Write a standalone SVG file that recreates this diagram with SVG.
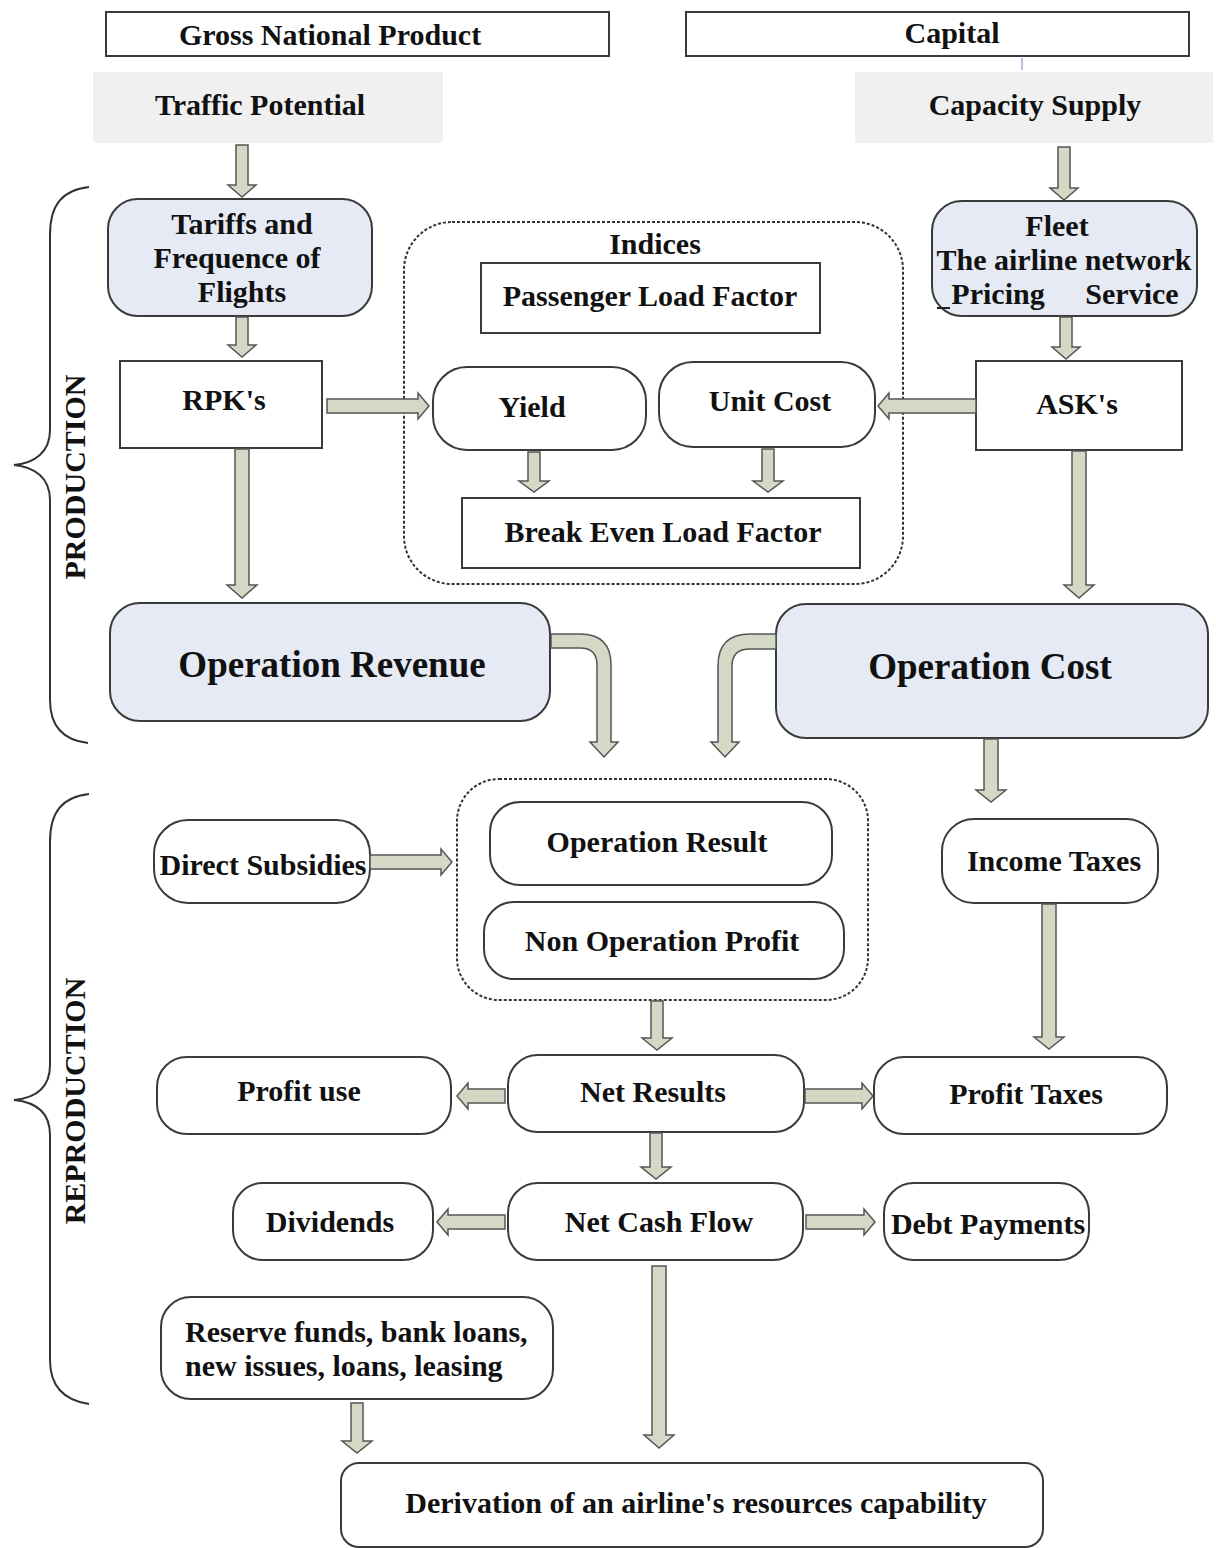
<svg xmlns="http://www.w3.org/2000/svg" width="1216" height="1548" viewBox="0 0 1216 1548">
<style>
.box{fill:#fff;stroke:#3a3a3a;stroke-width:2}
.blue{fill:#e5eaf4}
.gray{fill:#f0f0f0;stroke:none}
.dash{fill:none;stroke:#333;stroke-width:2;stroke-dasharray:3 2}
.arrow{fill:#d5d8c4;stroke:#555;stroke-width:1.5}
.brace{fill:none;stroke:#333;stroke-width:2}
.t{font-family:"Liberation Serif","Times New Roman",serif;font-weight:bold;font-size:30px;fill:#111;text-anchor:middle}
.big{font-size:37px}
.left{text-anchor:start}
</style>
<rect width="1216" height="1548" fill="#fff"/>

<g id="braces">
<path class="brace" d="M89,187 C62,190 50,205 50,235 V430 C50,452 35,463 14,465 C35,467 50,478 50,500 V700 C50,725 62,740 88,743"/>
<text class="t" transform="translate(85,477) rotate(-90)">PRODUCTION</text>
<path class="brace" d="M89,794 C62,797 50,812 50,842 V1065 C50,1088 35,1098 14,1100 C35,1102 50,1112 50,1135 V1360 C50,1385 62,1400 89,1404"/>
<text class="t" transform="translate(85,1101) rotate(-90)">REPRODUCTION</text>
</g>

<g id="gnp"><rect class="box" x="106" y="12" width="503" height="44"/><text class="t" x="330" y="45">Gross National Product</text></g>
<g id="capital"><rect class="box" x="686" y="12" width="503" height="44"/><text class="t" x="952" y="43">Capital</text><line x1="1022" y1="58" x2="1022" y2="70" stroke="#9aabcc" stroke-width="1.5"/></g>
<g id="traffic"><rect class="gray" x="93" y="72" width="350" height="71"/><text class="t" x="260" y="115">Traffic Potential</text></g>
<g id="capacity"><rect class="gray" x="855" y="72" width="358" height="71"/><text class="t" x="1035" y="115">Capacity Supply</text></g>

<g id="tariffs"><rect class="box blue" x="108" y="199" width="264" height="117" rx="30"/>
<text class="t" x="242" y="234">Tariffs and</text><text class="t" x="237" y="268">Frequence of</text><text class="t" x="242" y="302">Flights</text></g>

<g id="fleet"><rect class="box blue" x="932" y="201" width="265" height="115" rx="30"/>
<text class="t" x="1057" y="236">Fleet</text><text class="t" x="1064" y="270">The airline network</text>
<text class="t" y="304"><tspan x="998">Pricing</tspan><tspan x="1132">Service</tspan></text>
<line x1="937" y1="308" x2="950" y2="308" stroke="#222" stroke-width="2"/></g>

<g id="indices"><rect class="dash" x="404" y="222" width="499" height="362" rx="48"/><text class="t" x="655" y="254">Indices</text></g>
<g id="plf"><rect class="box" x="481" y="263" width="339" height="70"/><text class="t" x="650" y="306">Passenger Load Factor</text></g>
<g id="yield"><rect class="box" x="433" y="367" width="213" height="83" rx="34"/><text class="t" x="532" y="417">Yield</text></g>
<g id="unitcost"><rect class="box" x="659" y="362" width="216" height="85" rx="34"/><text class="t" x="770" y="411">Unit Cost</text></g>
<g id="belf"><rect class="box" x="462" y="498" width="398" height="70"/><text class="t" x="663" y="542">Break Even Load Factor</text></g>

<g id="rpk"><rect class="box" x="120" y="361" width="202" height="87"/><text class="t" x="224" y="410">RPK's</text></g>
<g id="ask"><rect class="box" x="976" y="361" width="206" height="89"/><text class="t" x="1077" y="414">ASK's</text></g>

<g id="oprev"><rect class="box blue" x="110" y="603" width="440" height="118" rx="30"/><text class="t big" x="332" y="677">Operation Revenue</text></g>
<g id="opcost"><rect class="box blue" x="776" y="604" width="432" height="134" rx="30"/><text class="t big" x="990" y="679">Operation Cost</text></g>

<g id="results"><rect class="dash" x="457" y="779" width="411" height="221" rx="42"/></g>
<g id="opresult"><rect class="box" x="490" y="802" width="342" height="83" rx="30"/><text class="t" x="657" y="852">Operation Result</text></g>
<g id="nonop"><rect class="box" x="484" y="902" width="360" height="77" rx="30"/><text class="t" x="662" y="951">Non Operation Profit</text></g>
<g id="subsidies"><rect class="box" x="154" y="820" width="216" height="83" rx="34"/><text class="t" x="263" y="875">Direct Subsidies</text></g>
<g id="incometax"><rect class="box" x="942" y="819" width="216" height="84" rx="32"/><text class="t" x="1054" y="871">Income Taxes</text></g>

<g id="profituse"><rect class="box" x="157" y="1057" width="294" height="77" rx="30"/><text class="t" x="299" y="1101">Profit use</text></g>
<g id="netresults"><rect class="box" x="508" y="1055" width="296" height="77" rx="30"/><text class="t" x="653" y="1102">Net Results</text></g>
<g id="profittax"><rect class="box" x="874" y="1057" width="293" height="77" rx="30"/><text class="t" x="1026" y="1104">Profit Taxes</text></g>

<g id="dividends"><rect class="box" x="233" y="1183" width="200" height="77" rx="30"/><text class="t" x="330" y="1232">Dividends</text></g>
<g id="netcash"><rect class="box" x="508" y="1183" width="295" height="77" rx="30"/><text class="t" x="659" y="1232">Net Cash Flow</text></g>
<g id="debt"><rect class="box" x="884" y="1183" width="205" height="77" rx="30"/><text class="t" x="988" y="1234">Debt Payments</text></g>

<g id="reserve"><rect class="box" x="161" y="1297" width="392" height="102" rx="30"/>
<text class="t left" x="185" y="1342">Reserve funds, bank loans,</text><text class="t left" x="185" y="1376">new issues, loans, leasing</text></g>

<g id="derivation"><rect class="box" x="341" y="1463" width="702" height="84" rx="18"/><text class="t" x="696" y="1513">Derivation of an airline's resources capability</text></g>

<g id="connectors">
<path class="arrow" d="M236,145 H248 V185 H256 L242,197 L228,185 H236 Z"/>
<path class="arrow" d="M1058,147 H1070 V188 H1078 L1064,200 L1050,188 H1058 Z"/>
<path class="arrow" d="M236,317 H248 V345 H256 L242,357 L228,345 H236 Z"/>
<path class="arrow" d="M1060,317 H1072 V347 H1080 L1066,359 L1052,347 H1060 Z"/>
<path class="arrow" d="M528,452 H540 V481 H549 L534,492 L519,481 H528 Z"/>
<path class="arrow" d="M762,449 H774 V481 H783 L768,492 L753,481 H762 Z"/>
<path class="arrow" d="M235,449 H249 V585 H257 L242,598 L227,585 H235 Z"/>
<path class="arrow" d="M1072,451 H1086 V585 H1094 L1079,598 L1064,585 H1072 Z"/>
<path class="arrow" d="M984,739 H998 V790 H1006 L991,802 L976,790 H984 Z"/>
<path class="arrow" d="M651,1001 H663 V1038 H672 L657,1050 L642,1038 H651 Z"/>
<path class="arrow" d="M1042,904 H1056 V1037 H1064 L1049,1049 L1034,1037 H1042 Z"/>
<path class="arrow" d="M650,1133 H662 V1167 H671 L656,1179 L641,1167 H650 Z"/>
<path class="arrow" d="M652,1266 H666 V1435 H674 L659,1448 L644,1435 H652 Z"/>
<path class="arrow" d="M351,1403 H363 V1441 H372 L357,1453 L342,1441 H351 Z"/>
<path class="arrow" d="M327,399 H418 V393 L429,406 L418,419 V413 H327 Z"/>
<path class="arrow" d="M370,855 H441 V849 L452,862 L441,875 V869 H370 Z"/>
<path class="arrow" d="M805,1089 H862 V1083 L873,1096 L862,1109 V1103 H805 Z"/>
<path class="arrow" d="M806,1215 H864 V1209 L875,1222 L864,1235 V1229 H806 Z"/>
<path class="arrow" d="M976,399 H889 V393 L878,406 L889,419 V413 H976 Z"/>
<path class="arrow" d="M505,1089 H468 V1083 L457,1096 L468,1109 V1103 H505 Z"/>
<path class="arrow" d="M505,1215 H448 V1209 L437,1222 L448,1235 V1229 H505 Z"/>
<path class="arrow" d="M551,634 H580 Q611,634 611,665 V742 H618 L604,757 L590,742 H597 V665 Q597,648 580,648 H551 Z"/>
<path class="arrow" d="M776,634 H750 Q718,634 718,666 V742 H711 L725,757 L739,742 H732 V666 Q732,649 750,649 H776 Z"/>
</g>
</svg>
